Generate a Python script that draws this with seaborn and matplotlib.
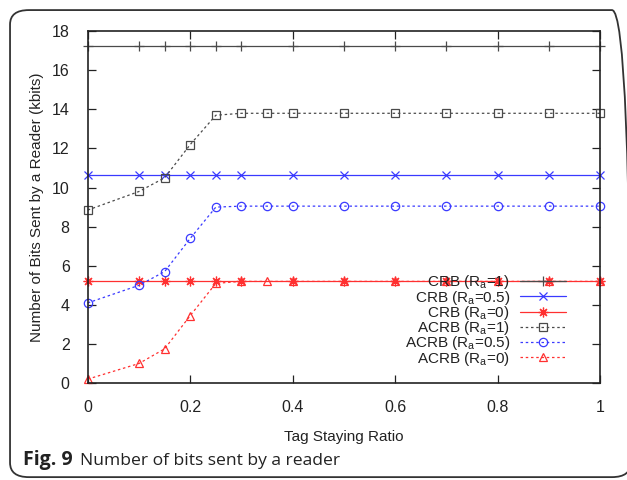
import matplotlib
matplotlib.use("Agg")
import matplotlib.pyplot as plt
from matplotlib.patches import FancyBboxPatch
from matplotlib.lines import Line2D
import seaborn as sns
import pandas as pd

# Tag staying ratios at which each scheme was evaluated
x_crb = [0, 0.1, 0.15, 0.2, 0.25, 0.3, 0.4, 0.5, 0.6, 0.7, 0.8, 0.9, 1.0]
x_acrb = [0, 0.1, 0.15, 0.2, 0.25, 0.3, 0.35, 0.4, 0.5, 0.6, 0.7, 0.8, 0.9, 1.0]

# Bits sent by a reader (kbits)
crb_ra1 = [17.25] * len(x_crb)
crb_ra05 = [10.65] * len(x_crb)
crb_ra0 = [5.2] * len(x_crb)
acrb_ra1 = [8.85, 9.8, 10.5, 12.2, 13.7, 13.8, 13.8, 13.8, 13.8, 13.8, 13.8, 13.8, 13.8, 13.8]
acrb_ra05 = [4.1, 5.0, 5.7, 7.4, 9.0, 9.05, 9.05, 9.05, 9.05, 9.05, 9.05, 9.05, 9.05, 9.05]
acrb_ra0 = [0.2, 1.0, 1.75, 3.45, 5.1, 5.2, 5.2, 5.2, 5.2, 5.2, 5.2, 5.2, 5.2, 5.2]

x_ticks = [0, 0.2, 0.4, 0.6, 0.8, 1]
x_tick_labels = ["0", "0.2", "0.4", "0.6", "0.8", "1"]
y_ticks = [0, 2, 4, 6, 8, 10, 12, 14, 16, 18]

sns.set_theme(style="ticks")
plt.rcParams["font.family"] = ["Liberation Sans", "DejaVu Sans"]
plt.rcParams["mathtext.fontset"] = "custom"
plt.rcParams["mathtext.rm"] = "Liberation Sans"
plt.rcParams["mathtext.it"] = "Liberation Sans"

BLACK = "#4a4a4a"
BLUE = "#3a3aff"
RED = "#ff3030"
DOT = (0, (2, 2.2))
INK = "#222222"

series = [
    ("CRB (R$_{\\mathrm{a}}$=1)", x_crb, crb_ra1, BLACK, "+", "-", 7),
    ("CRB (R$_{\\mathrm{a}}$=0.5)", x_crb, crb_ra05, BLUE, "x", "-", 6),
    ("CRB (R$_{\\mathrm{a}}$=0)", x_crb, crb_ra0, RED, (8, 2, 0), "-", 7),
    ("ACRB (R$_{\\mathrm{a}}$=1)", x_acrb, acrb_ra1, BLACK, "s", DOT, 5.5),
    ("ACRB (R$_{\\mathrm{a}}$=0.5)", x_acrb, acrb_ra05, BLUE, "o", DOT, 6),
    ("ACRB (R$_{\\mathrm{a}}$=0)", x_acrb, acrb_ra0, RED, "^", DOT, 6),
]

fig = plt.figure(figsize=(6.27, 4.80), dpi=100)
ax = fig.add_axes([0.140, 0.202, 0.817, 0.733])

handles = []
for label, xs, ys, color, marker, ls, ms in series:
    df = pd.DataFrame({"ratio": xs, "kbits": ys})
    sns.lineplot(data=df, x="ratio", y="kbits", ax=ax, color=color,
                 linestyle=ls, linewidth=0.9, marker=marker, markersize=ms,
                 markerfacecolor="none", markeredgecolor=color,
                 markeredgewidth=0.9, clip_on=False, legend=False)
    handles.append(Line2D([], [], color=color, linestyle=ls, linewidth=0.9,
                          marker=marker, markersize=ms, markerfacecolor="none",
                          markeredgecolor=color, markeredgewidth=0.9,
                          label=label))

ax.set_xlim(0, 1)
ax.set_ylim(0, 18)
ax.set_xticks(x_ticks)
ax.set_xticklabels(x_tick_labels)
ax.set_yticks(y_ticks)
ax.tick_params(direction="in", length=6, width=0.9, top=True, right=True,
               labelsize=11.5, colors=INK)
ax.tick_params(axis="x", pad=12)
ax.tick_params(axis="y", pad=13)
for side in ax.spines.values():
    side.set_visible(True)
    side.set_linewidth(1.2)
    side.set_color(INK)

ax.set_xlabel("Tag Staying Ratio", fontsize=11, color=INK, labelpad=11)
ax.set_ylabel("Number of Bits Sent by a Reader (kbits)", fontsize=11,
              color=INK, labelpad=6)

leg = ax.legend(handles=handles, loc="lower right",
                bbox_to_anchor=(0.948, 0.022), frameon=False,
                markerfirst=False, fontsize=11, handlelength=3.0,
                handletextpad=0.65, labelspacing=-0.18, borderpad=0)
for t in leg.get_texts():
    t.set_ha("right")
    t.set_color(INK)
leg._legend_box.align = "right"

# Caption below the chart: bold figure number followed by the title
fig.canvas.draw()
lead = fig.text(0.037, 0.031, "Fig. 9", fontsize=14, fontweight="bold",
                family=["Open Sans", "DejaVu Sans"], color=INK)
fig.canvas.draw()
bb = lead.get_window_extent().transformed(fig.transFigure.inverted())
fig.text(bb.x1 + 0.011, 0.031, "Number of bits sent by a reader",
         fontsize=12.6, family=["Open Sans", "DejaVu Sans"], color=INK)

# Rounded outer frame
frame = FancyBboxPatch((0.016, 0.006), 0.99, 0.973,
                       boxstyle="round,pad=0,rounding_size=0.03",
                       transform=fig.transFigure, fill=False,
                       edgecolor="#333333", linewidth=1.3, zorder=10)
fig.patches.append(frame)

fig.savefig("out.png", dpi=100)
